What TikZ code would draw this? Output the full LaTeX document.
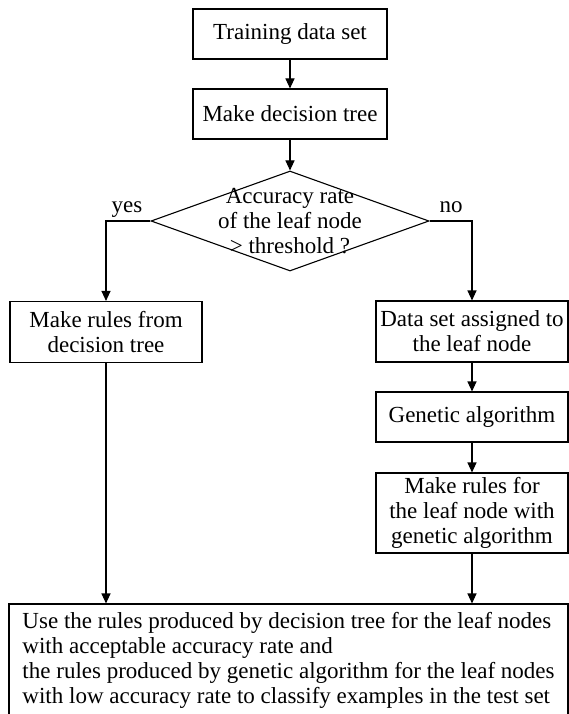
\documentclass[tikz,border=0pt]{standalone}
\usepackage{fontspec}
\setmainfont{Liberation Serif}
\usetikzlibrary{arrows.meta,shapes.geometric}
\begin{document}
\begin{tikzpicture}[x=1pt,y=-1pt,line width=1.1pt,
  font=\fontsize{23}{25}\selectfont,
  box/.style={draw,align=center,inner sep=0pt,minimum width=194pt,minimum height=50pt},
  sidebox/.style={box,minimum width=192pt,minimum height=61pt},
  decision/.style={draw,diamond,inner sep=0pt,minimum width=278pt,minimum height=100pt},
  arrow/.style={-{Triangle[length=10pt,width=9pt]}}]
  \useasboundingbox (0,0) rectangle (568,714);
  \node[box] (train) at (290,34) {Training data set};
  \node[box] (tree) at (290,114) {Make decision tree};
  \node[decision] (acc) at (290,221) {};
  \node[align=center] (acctext) at (acc) {Accuracy rate\\of the leaf node\\> threshold ?};
  \node[anchor=base] (yes) at (127,212) {yes};
  \node[anchor=base] (no) at (451,212) {no};
  \node[sidebox] (fromtree) at (106,332) {Make rules from\\decision tree};
  \node[sidebox] (assign) at (472,331.5) {Data set assigned to\\the leaf node};
  \node[box,minimum width=192pt] (ga) at (472,417) {Genetic algorithm};
  \node[box,minimum width=192pt,minimum height=80pt] (garules) at (472,513)
    {Make rules for\\the leaf node with\\genetic algorithm};
  \node[draw,align=left,inner sep=0pt,minimum width=559pt,minimum height=112pt] (use) at (288.5,660)
    {Use the rules produced by decision tree for the leaf nodes\\
     with acceptable accuracy rate and\\
     the rules produced by genetic algorithm for the leaf nodes\\
     with low accuracy rate to classify examples in the test set};
  \draw[arrow] (train) -- (tree);
  \draw[arrow] (tree) -- (acc);
  \draw[arrow] (acc.west) -| (fromtree);
  \draw[arrow] (acc.east) -| (assign);
  \draw[arrow] (assign) -- (ga);
  \draw[arrow] (ga) -- (garules);
  \draw[arrow] (fromtree) -- (fromtree |- use.north);
  \draw[arrow] (garules) -- (garules |- use.north);
\end{tikzpicture}
\end{document}
